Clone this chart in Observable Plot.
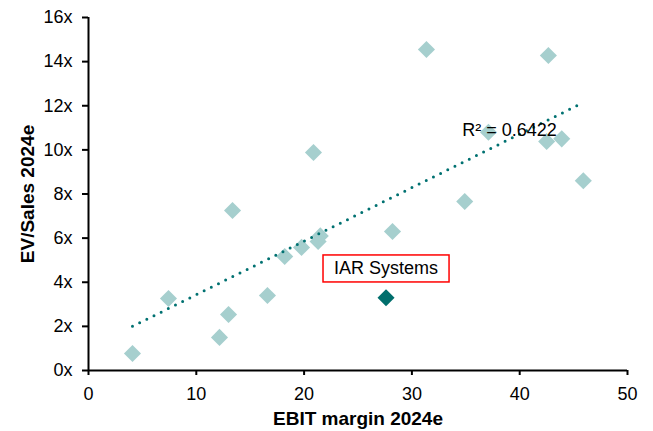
<!DOCTYPE html>
<html><head><meta charset="utf-8">
<script src="https://cdn.jsdelivr.net/npm/d3@7"></script>
<script src="https://cdn.jsdelivr.net/npm/@observablehq/plot@0.6"></script>
<style>
html,body{margin:0;padding:0;background:#fff;}
#chart svg{display:block;font-family:"Liberation Sans",Arial,sans-serif;}
#chart svg [aria-label="x-axis label"] text, #chart svg [aria-label="y-axis label"] text{font-weight:bold;font-size:19px;}
</style></head><body><div id="chart"></div>
<script>
// Peer group: EBIT margin 2024e (%) and EV/Sales 2024e (x)
const peerMargins = [4.08, 7.42, 12.15, 12.99, 13.36, 16.6, 18.2, 19.76, 20.87, 21.3, 21.5, 28.2, 31.35, 34.9, 37.1, 42.5, 42.66, 43.9, 45.9];
const peerEvSales = [0.77, 3.26, 1.5, 2.54, 7.25, 3.4, 5.17, 5.58, 9.88, 5.85, 6.1, 6.3, 14.55, 7.66, 10.8, 10.38, 14.28, 10.5, 8.6];
// Highlighted company
const iarMargin = [27.6];
const iarEvSales = [3.3];
const iarLabel = ["IAR Systems"];
// Axes
const xTicks = [0, 10, 20, 30, 40, 50];
const yTicks = [0, 2, 4, 6, 8, 10, 12, 14, 16];
const yTickLabels = ["0x", "2x", "4x", "6x", "8x", "10x", "12x", "14x", "16x"];
const r2Label = "R² = 0.6422";

const peers = peerMargins.map((x, i) => ({x, y: peerEvSales[i]}));
const iar = iarMargin.map((x, i) => ({x, y: iarEvSales[i], label: iarLabel[i]}));

const lightColor = "#a6cfce";
const darkColor = "#006e6c";
const trendColor = "#007171";

const chart = Plot.plot({
  width: 653, height: 431,
  marginLeft: 88, marginRight: 26, marginTop: 17, marginBottom: 61,
  style: {fontFamily: '"Liberation Sans", Arial, sans-serif', fontSize: "18px", color: "#000", background: "#fff", overflow: "visible"},
  x: {domain: [0, 50]},
  y: {domain: [0, 16]},
  marks: [
    Plot.axisY({ticks: yTicks, tickFormat: d => yTickLabels[yTicks.indexOf(d)], tickSize: 6, tickPadding: 10, strokeWidth: 2, fontSize: 18,
      label: "EV/Sales 2024e", labelArrow: false, labelAnchor: "center", labelOffset: 68}),
    Plot.axisX({ticks: xTicks, tickSize: 5, tickPadding: 12, strokeWidth: 2, fontSize: 18,
      label: "EBIT margin 2024e", labelArrow: false, labelAnchor: "center", labelOffset: 54}),
    Plot.ruleX([0], {stroke: "#000", strokeWidth: 2}),
    Plot.ruleY([0], {stroke: "#000", strokeWidth: 2}),
    Plot.dot(peers, {x: "x", y: "y", symbol: "diamond2", r: 7.7, fill: lightColor, stroke: "none"}),
    Plot.dot(iar, {x: "x", y: "y", symbol: "diamond2", r: 7.7, fill: darkColor, stroke: "none"}),
    Plot.linearRegressionY(peers, {x: "x", y: "y", ci: 0, stroke: trendColor, strokeWidth: 3, strokeDasharray: "0,8", strokeLinecap: "round"}),
    Plot.text(iar, {x: "x", y: "y", text: "label", dy: -29, fontSize: 18, fill: "#000"}),
    Plot.text([{x: 39.05, y: 10.9, t: r2Label}], {x: "x", y: "y", text: "t", fontSize: 18, fill: "#000"})
  ]
});
document.getElementById("chart").appendChild(chart);

// Red box around the IAR label, sized from the rendered text
const padX = 11, padY = 3.5;
chart.querySelectorAll("text").forEach(t => {
  if (!iarLabel.includes(t.textContent)) return;
  const b = t.getBBox();
  const tr = t.getAttribute("transform");
  const rect = document.createElementNS("http://www.w3.org/2000/svg", "rect");
  rect.setAttribute("x", b.x - padX);
  rect.setAttribute("y", b.y - padY);
  rect.setAttribute("width", b.width + 2 * padX);
  rect.setAttribute("height", b.height + 2 * padY);
  rect.setAttribute("fill", "#fff");
  rect.setAttribute("stroke", "#ff0000");
  rect.setAttribute("stroke-width", 1.5);
  if (tr) rect.setAttribute("transform", tr);
  t.parentNode.insertBefore(rect, t);
});
</script></body></html>
